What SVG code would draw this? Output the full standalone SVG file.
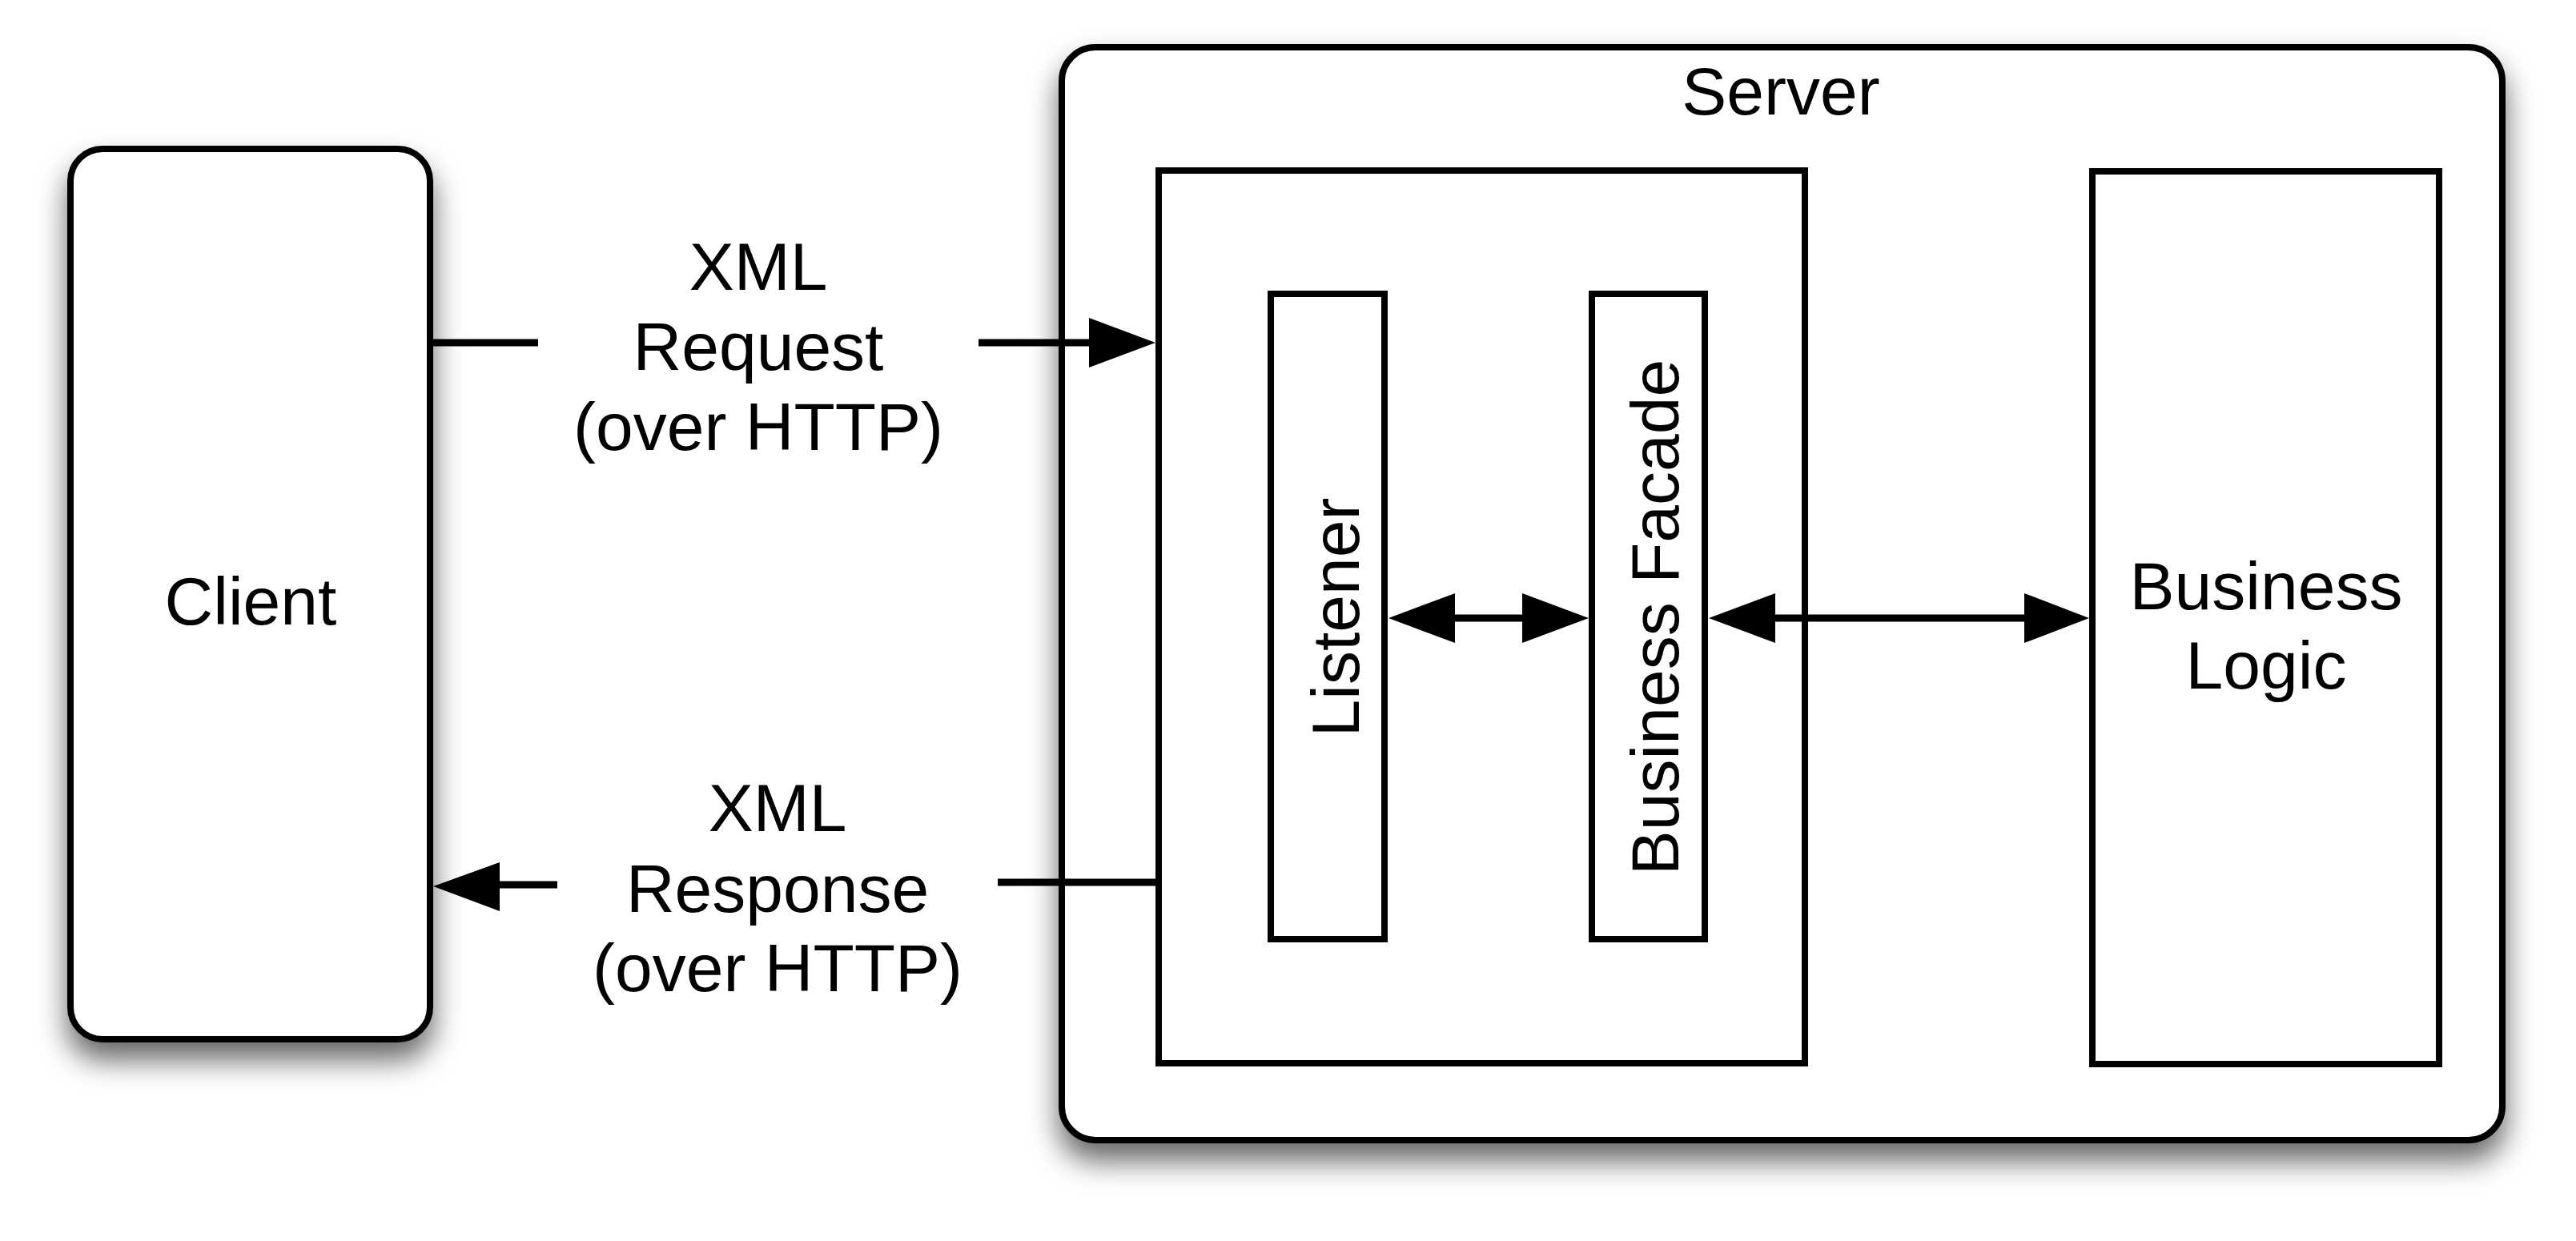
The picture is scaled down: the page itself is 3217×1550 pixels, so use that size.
<svg xmlns="http://www.w3.org/2000/svg" width="3217" height="1550" viewBox="0 0 3217 1550">
<style>
.box{fill:#fff;stroke:#000;stroke-width:8}
.outer{fill:#fff;stroke:#000;stroke-width:8;filter:url(#shadow)}
.lbl{font-family:"Liberation Sans",Arial,Helvetica,sans-serif;font-size:84px;fill:#000;text-anchor:middle}
.con{stroke:#000;stroke-width:9;fill:none}
.head{fill:#000;stroke:none}
</style>
<defs>
<filter id="shadow" x="-20%" y="-20%" width="140%" height="140%">
<feDropShadow dx="0" dy="22" stdDeviation="18" flood-color="#000" flood-opacity="0.6"/>
</filter>
</defs>
<rect width="3217" height="1550" fill="#fff"/>
<g id="server">
<rect class="outer" x="1326" y="59" width="1799" height="1365" rx="42" ry="42"/>
<text class="lbl" x="2224" y="143">Server</text>
</g>
<g id="listener-container">
<rect class="box" x="1447" y="213" width="807" height="1115"/>
</g>
<g id="listener">
<rect class="box" x="1587" y="367" width="142" height="806"/>
<text class="lbl" transform="translate(1697,771) rotate(-90)">Listener</text>
</g>
<g id="business-facade">
<rect class="box" x="1988" y="367" width="141" height="806"/>
<text class="lbl" transform="translate(2096,771) rotate(-90)">Business Facade</text>
</g>
<g id="business-logic">
<rect class="box" x="2613" y="214" width="433" height="1115"/>
<text class="lbl" x="2830" y="761">Business</text>
<text class="lbl" x="2830" y="860">Logic</text>
</g>
<g id="client">
<rect class="outer" x="88" y="186" width="449" height="1112" rx="40" ry="40"/>
<text class="lbl" x="313" y="780">Client</text>
</g>
<g id="connectors">
<g id="request">
<line class="con" x1="537" y1="428" x2="672" y2="428"/>
<line class="con" x1="1222" y1="428" x2="1364" y2="428"/>
<polygon class="head" points="1360,397 1443,428 1360,459"/>
<text class="lbl" x="947" y="362">XML</text>
<text class="lbl" x="947" y="462">Request</text>
<text class="lbl" x="947" y="562">(over HTTP)</text>
</g>
<g id="response">
<line class="con" x1="1246" y1="1102" x2="1447" y2="1102"/>
<line class="con" x1="620" y1="1105" x2="696" y2="1105"/>
<polygon class="head" points="624,1077 541,1107 624,1138"/>
<text class="lbl" x="971" y="1038">XML</text>
<text class="lbl" x="971" y="1139">Response</text>
<text class="lbl" x="971" y="1238">(over HTTP)</text>
</g>
<g id="listener-facade">
<line class="con" x1="1815" y1="772" x2="1903" y2="772"/>
<polygon class="head" points="1817,741 1734,772 1817,803"/>
<polygon class="head" points="1901,741 1984,772 1901,803"/>
</g>
<g id="facade-logic">
<line class="con" x1="2215" y1="772" x2="2530" y2="772"/>
<polygon class="head" points="2217,741 2134,772 2217,803"/>
<polygon class="head" points="2528,741 2609,772 2528,803"/>
</g>
</g>
</svg>
